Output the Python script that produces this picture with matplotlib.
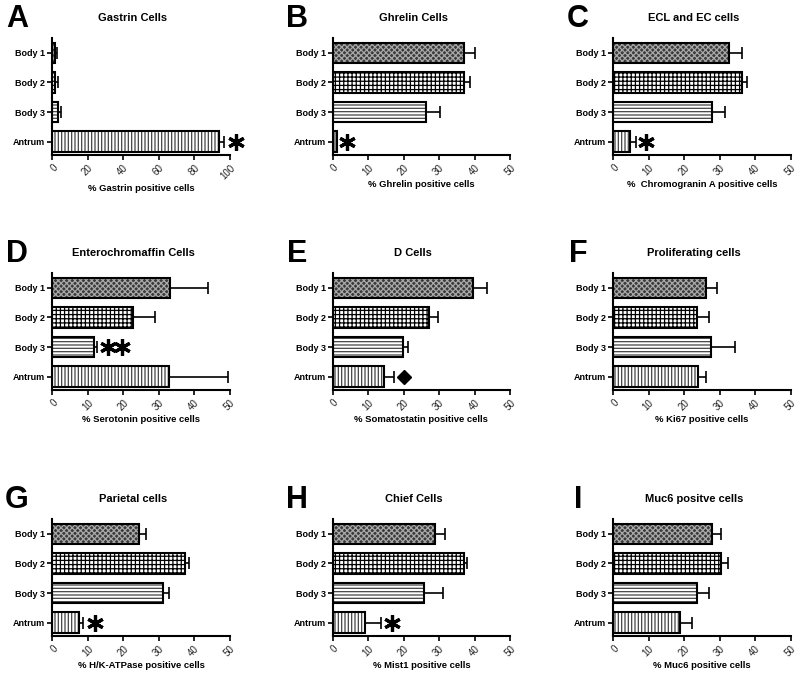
import numpy as np
import matplotlib
matplotlib.use("Agg")
import matplotlib.pyplot as plt

plt.rcParams['font.family'] = ['Liberation Sans', 'DejaVu Sans']
plt.rcParams['hatch.linewidth'] = 0.9

# Data
groups = ['Body 1', 'Body 2', 'Body 3', 'Antrum']

letters = ['A', 'B', 'C', 'D', 'E', 'F', 'G', 'H', 'I']
titles = ['Gastrin Cells', 'Ghrelin Cells', 'ECL and EC cells',
          'Enterochromaffin Cells', 'D Cells', 'Proliferating cells',
          'Parietal cells', 'Chief Cells', 'Muc6 positve cells']
xlabels = ['% Gastrin positive cells', '% Ghrelin positive cells',
           '%  Chromogranin A positive cells', '% Serotonin positive cells',
           '% Somatostatin positive cells', '% Ki67 positive cells',
           '% H/K-ATPase positive cells', '% Mist1 positive cells',
           '% Muc6 positive cells']
xmax = [100, 50, 50, 50, 50, 50, 50, 50, 50]

gastrin = [1.5, 1.5, 3.4, 94]
gastrin_err = [1.0, 1.5, 1.5, 3.0]
ghrelin = [37.0, 37.0, 26.2, 1.1]
ghrelin_err = [3.2, 1.7, 4.0, 0.0]
chromogranin = [32.7, 36.3, 27.8, 4.7]
chromogranin_err = [3.5, 1.5, 3.6, 1.7]
serotonin = [33.1, 22.8, 11.8, 32.8]
serotonin_err = [10.8, 6.1, 0.7, 16.8]
somatostatin = [39.5, 27.2, 19.7, 14.5]
somatostatin_err = [3.9, 2.6, 1.4, 2.8]
ki67 = [26.1, 23.6, 27.6, 23.9]
ki67_err = [3.2, 3.5, 6.8, 2.2]
hk_atpase = [24.5, 37.5, 31.1, 7.4]
hk_atpase_err = [1.8, 1.0, 1.7, 1.3]
mist1 = [28.8, 37.0, 25.8, 9.2]
mist1_err = [2.9, 1.0, 5.4, 4.3]
muc6 = [27.8, 30.4, 23.6, 18.8]
muc6_err = [2.6, 1.9, 3.3, 3.3]

values = [gastrin, ghrelin, chromogranin, serotonin, somatostatin, ki67,
          hk_atpase, mist1, muc6]
errors = [gastrin_err, ghrelin_err, chromogranin_err, serotonin_err,
          somatostatin_err, ki67_err, hk_atpase_err, mist1_err, muc6_err]

# significance marks: (panel, group index, x value, symbol)
stars = [(0, 3, 103.5, '*'), (1, 3, 4.0, '*'), (2, 3, 9.2, '*'),
         (3, 2, 15.6, '*'), (3, 2, 19.6, '*'), (4, 3, 20.2, 'D'),
         (6, 3, 12.0, '*'), (7, 3, 16.8, '*')]

# bar styles: face, hatch colour, hatch
styles = [('#3a3a3a', '#a8a8a8', 'xxxxxx'),
          ('white', 'black', '++++'),
          ('white', '#444444', '-----'),
          ('white', '#444444', '|||||')]

fig = plt.figure(figsize=(8, 6.76), dpi=100)

lefts = [0.0654, 0.4159, 0.7666]
bottoms = [0.7707, 0.4231, 0.0592]
w = 0.2216
h = 0.1730

ypos = np.array([3, 2, 1, 0])

for i in range(9):
    r, c = divmod(i, 3)
    ax = fig.add_axes([lefts[c], bottoms[r], w, h])
    for j in range(4):
        face, hcol, hatch = styles[j]
        ax.barh(ypos[j], values[i][j], height=0.69, color=face,
                edgecolor=hcol, hatch=hatch, linewidth=0, zorder=2)
        ax.barh(ypos[j], values[i][j], height=0.69, fill=False,
                edgecolor='black', linewidth=1.5, zorder=3)
    ax.errorbar(values[i], ypos, xerr=[np.zeros(4), errors[i]], fmt='none',
                ecolor='black', elinewidth=1.2, capsize=4, capthick=1.2,
                zorder=4)

    ax.set_xlim(0, xmax[i])
    ax.set_ylim(-0.45, 3.5)
    ax.set_yticks(ypos)
    ax.set_yticklabels(groups, fontsize=6.5, fontweight='bold')
    ticks = np.linspace(0, xmax[i], 6)
    ax.set_xticks(ticks)
    ax.set_xticklabels([str(int(t)) for t in ticks], fontsize=7,
                       rotation=45, ha='right', rotation_mode='anchor',
                       color='#222222')
    ax.tick_params(axis='both', length=3.5, width=1.2, pad=1.5)
    ax.tick_params(axis='x', pad=2)
    for s in ['top', 'right']:
        ax.spines[s].set_visible(False)
    for s in ['left', 'bottom']:
        ax.spines[s].set_linewidth(1.5)
    ax.set_xlabel(xlabels[i], fontsize=6.8, fontweight='bold', labelpad=2)
    ax.text(0.455, 1.17, titles[i], transform=ax.transAxes, ha='center',
            va='center', fontsize=8, fontweight='bold')
    ax.text(-0.2, 1.16, letters[i], transform=ax.transAxes, ha='center',
            va='center', fontsize=22, fontweight='bold',
            family=['Liberation Sans Narrow', 'Liberation Sans'])

    for p, g, xv, sym in stars:
        if p != i:
            continue
        if sym == 'D':
            ax.plot(xv, ypos[g], marker='D', ms=7, color='black',
                    clip_on=False, zorder=5)
        else:
            ax.plot(xv, ypos[g], marker=(6, 2, 0), ms=12, mew=2.3,
                    color='black', clip_on=False, zorder=5)

fig.savefig('out.png', dpi=100)
